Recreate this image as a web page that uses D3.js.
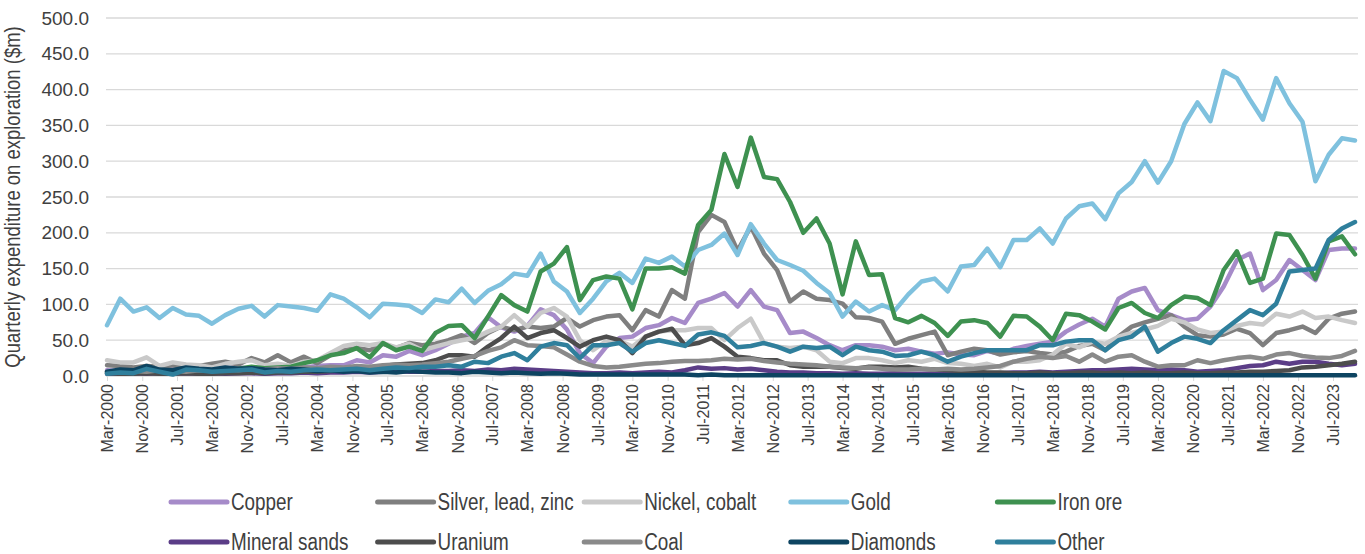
<!DOCTYPE html>
<html>
<head>
<meta charset="utf-8">
<script src="https://cdn.jsdelivr.net/npm/d3@7"></script>
<style>
  body { margin: 0; background: #fff; }
  svg { display: block; }
</style>
</head>
<body>
<div id="chart"></div>
<script>
// quarterly exploration expenditure ($m), Mar-2000 .. Dec-2023
let copper = [8,7,9,8,10,9,8,10,9,11,12,10,12,11,13,12,14,15,15,22,19,29,27,35,29,36,45,55,60,82,68,62,70,93,85,65,32,18,41,53,55,67,71,81,74,102,108,116,97,120,97,92,60,62,53,43,36,43,43,41,36,38,34,31,33,30,29,35,31,38,42,45,48,62,72,80,69,108,118,123,92,85,78,80,97,125,162,171,120,134,162,148,134,176,178,178];
let silver = [15,14,12,14,13,15,12,14,17,20,16,25,19,29,19,27,18,29,36,39,36,45,39,46,43,45,50,57,46,60,69,64,69,67,69,81,69,78,83,85,64,92,83,120,108,201,225,215,175,209,171,148,104,118,108,106,101,82,81,76,45,52,57,62,29,34,38,36,30,33,35,32,30,34,42,45,36,55,69,75,80,85,69,57,55,58,66,60,43,60,64,69,60,80,87,90];
let nickel = [22,19,19,26,14,19,16,15,12,17,20,22,15,17,14,20,22,32,42,45,43,46,40,45,36,41,46,50,53,62,69,85,69,88,95,83,50,36,49,49,41,55,62,64,64,67,67,50,67,80,46,41,39,41,36,20,18,25,25,22,18,22,20,24,18,17,14,17,12,20,20,22,30,45,40,48,45,55,60,65,70,80,75,65,60,62,70,74,72,87,83,90,81,83,78,74];
let gold = [71,108,90,96,81,95,86,84,73,85,94,98,83,99,97,95,91,114,108,96,82,101,100,98,88,107,103,122,102,119,128,143,140,171,132,118,88,108,132,144,130,164,158,167,153,176,183,199,169,212,185,162,155,147,130,116,83,104,90,99,92,114,132,136,118,153,155,178,152,190,190,206,185,220,237,241,219,255,271,300,270,300,352,382,356,426,416,386,358,416,381,355,272,309,332,329];
let ironOre = [5,6,5,7,6,7,8,7,8,9,10,13,11,12,13,18,22,29,32,39,26,46,36,41,35,60,70,71,53,83,113,99,90,146,157,180,106,134,139,136,93,150,150,152,143,211,232,310,264,333,278,275,243,200,220,185,114,188,141,142,81,75,84,74,56,76,78,74,55,84,83,69,50,87,85,76,65,95,102,88,81,99,111,109,99,148,174,130,136,199,197,169,136,188,195,170];
let mineralSands = [3,3,4,3,4,3,4,3,4,3,4,4,3,4,4,5,4,5,5,6,5,6,7,6,6,7,7,8,7,9,8,10,9,8,7,6,5,4,4,5,4,5,6,5,8,12,10,11,9,10,8,6,5,5,4,4,3,4,3,3,4,3,3,3,3,4,3,4,4,5,5,6,5,6,7,8,8,9,10,9,8,9,8,6,7,8,11,14,15,20,17,20,20,17,15,17];
let uranium = [4,3,3,4,3,3,4,3,3,4,4,5,4,5,5,6,6,7,8,10,12,14,16,17,18,22,29,29,27,41,53,69,53,60,64,53,41,50,55,50,32,55,62,66,43,46,53,41,27,25,22,22,15,13,13,13,11,10,13,13,12,13,10,9,8,7,6,5,5,4,4,5,4,4,5,5,4,5,4,5,4,4,5,4,4,5,5,6,6,7,8,12,13,15,17,20];
let coal = [6,5,7,6,8,7,6,8,7,9,8,10,9,11,10,12,11,13,12,14,13,15,16,15,16,18,20,24,28,35,40,50,43,42,40,30,20,14,12,13,15,17,18,20,21,21,22,24,23,24,21,19,17,16,15,13,12,11,12,10,9,9,10,9,10,9,10,12,14,20,24,27,25,28,20,30,20,27,29,20,13,15,15,22,18,22,25,27,24,30,32,28,26,25,28,35];
let diamonds = [6,9,8,14,9,8,12,10,9,12,10,11,9,8,10,9,7,8,6,7,5,6,5,7,6,5,5,4,6,5,4,5,4,3,4,3,2,2,2,2,2,2,2,2,2,1,2,1,1,1,1,1,1,1,1,1,1,1,1,1,1,1,1,1,1,1,1,1,1,1,1,1,1,1,1,1,1,1,1,1,1,1,1,1,1,1,1,1,1,1,1,1,1,1,1,1];
let other = [3,5,4,10,6,2,9,8,6,7,8,9,5,7,6,8,9,8,9,10,8,10,12,11,13,13,15,13,20,18,27,32,22,41,46,43,25,43,43,46,34,46,50,46,42,58,61,56,40,42,46,41,34,41,39,41,29,41,36,34,28,29,34,29,20,27,32,36,36,36,36,43,43,48,50,50,36,50,55,69,34,46,55,52,46,64,78,92,85,101,146,148,150,190,206,215];

let tickLabels = ["Mar-2000","Nov-2000","Jul-2001","Mar-2002","Nov-2002","Jul-2003","Mar-2004","Nov-2004",
  "Jul-2005","Mar-2006","Nov-2006","Jul-2007","Mar-2008","Nov-2008","Jul-2009","Mar-2010","Nov-2010",
  "Jul-2011","Mar-2012","Nov-2012","Jul-2013","Mar-2014","Nov-2014","Jul-2015","Mar-2016","Nov-2016",
  "Jul-2017","Mar-2018","Nov-2018","Jul-2019","Mar-2020","Nov-2020","Jul-2021","Mar-2022","Nov-2022","Jul-2023"];
let yTicks = [0,50,100,150,200,250,300,350,400,450,500];

let series = [
  {name: "Copper", values: copper, color: "#a68bc9"},
  {name: "Silver, lead, zinc", values: silver, color: "#7f7f7f"},
  {name: "Nickel, cobalt", values: nickel, color: "#c9c9c9"},
  {name: "Gold", values: gold, color: "#7fc1de"},
  {name: "Iron ore", values: ironOre, color: "#3e9150"},
  {name: "Mineral sands", values: mineralSands, color: "#5b3d87"},
  {name: "Uranium", values: uranium, color: "#4d4d4d"},
  {name: "Coal", values: coal, color: "#8a8a8a"},
  {name: "Diamonds", values: diamonds, color: "#0d4461"},
  {name: "Other", values: other, color: "#2f7f9c"}
];

let W = 1365, H = 554;
let plot = {left: 106, right: 1358, top: 18, bottom: 376};
// no narrow font installed: squeeze a regular one instead
let narrow = 0.82;

// one date per quarter end month
let quarters = d3.range(copper.length).map(function (i) {
    return new Date(2000, 2 + 3 * i, 1);
});
let parseTick = d3.timeParse("%b-%Y");

let x = d3.scaleTime()
    .domain([quarters[0], quarters[quarters.length - 1]])
    .range([107, 1355]);
let y = d3.scaleLinear().domain([0, 500]).range([plot.bottom, plot.top]);

let svg = d3.select("#chart").append("svg")
    .attr("width", W)
    .attr("height", H)
    .style("font-family", "'Liberation Sans', Arial, sans-serif");

// gridlines
svg.append("g")
    .selectAll("line")
    .data(yTicks.filter(function (d) { return d > 0; }))
    .enter()
    .append("line")
    .attr("x1", plot.left).attr("x2", plot.right)
    .attr("y1", function (d) { return y(d); })
    .attr("y2", function (d) { return y(d); })
    .attr("stroke", "#d9d9d9")
    .attr("stroke-width", 1.3);

// y axis labels
let yAxis = svg.append("g")
    .attr("transform", "translate(" + (plot.left - 17) + ",0)")
    .call(d3.axisLeft(y).tickValues(yTicks).tickSize(0).tickFormat(d3.format(".1f")));
yAxis.select(".domain").remove();
yAxis.selectAll("text")
    .attr("x", 0)
    .attr("fill", "#404040")
    .style("font-size", "19px")
    .style("font-family", "'Liberation Sans', Arial, sans-serif");

svg.append("text")
    .attr("transform", "translate(20," + ((plot.top + plot.bottom) / 2) + ") rotate(-90) scale(" + narrow + ",1)")
    .attr("text-anchor", "middle")
    .attr("fill", "#404040")
    .style("font-size", "22.5px")
    .text("Quarterly expenditure on exploration ($m)");

// x axis
let xAxis = svg.append("g")
    .attr("transform", "translate(0," + plot.bottom + ")")
    .call(d3.axisBottom(x)
        .tickValues(tickLabels.map(parseTick))
        .tickSize(5)
        .tickFormat(d3.timeFormat("%b-%Y")));
xAxis.select(".domain")
    .attr("d", "M" + plot.left + ",0H" + plot.right)
    .attr("stroke", "#d9d9d9")
    .attr("stroke-width", 1.3);
xAxis.selectAll(".tick line").attr("stroke", "#d9d9d9");
xAxis.selectAll("text")
    .attr("transform", "rotate(-90)")
    .attr("x", -8)
    .attr("y", 0)
    .attr("dy", "0.35em")
    .attr("text-anchor", "end")
    .attr("fill", "#404040")
    .style("font-size", "16px")
    .style("font-family", "'Liberation Sans', Arial, sans-serif");

// series lines
let line = d3.line()
    .x(function (d, i) { return x(quarters[i]); })
    .y(function (d) { return y(d); });

svg.append("g")
    .selectAll("path")
    .data(series)
    .enter()
    .append("path")
    .attr("d", function (s) { return line(s.values); })
    .attr("fill", "none")
    .attr("stroke", function (s) { return s.color; })
    .attr("stroke-width", 4.5)
    .attr("stroke-linejoin", "round")
    .attr("stroke-linecap", "round");

// legend, 5 columns x 2 rows
let legend = svg.append("g")
    .selectAll("g")
    .data(series)
    .enter()
    .append("g")
    .attr("transform", function (s, i) {
        return "translate(" + (169 + (i % 5) * 206.6) + "," + (i < 5 ? 502 : 542) + ")";
    });
legend.append("line")
    .attr("x1", 2).attr("x2", 58)
    .attr("stroke", function (s) { return s.color; })
    .attr("stroke-width", 5)
    .attr("stroke-linecap", "round");
legend.append("text")
    .attr("transform", "translate(62,0) scale(" + narrow + ",1)")
    .attr("dy", "0.35em")
    .attr("fill", "#404040")
    .style("font-size", "23px")
    .text(function (s) { return s.name; });
</script>
</body>
</html>
